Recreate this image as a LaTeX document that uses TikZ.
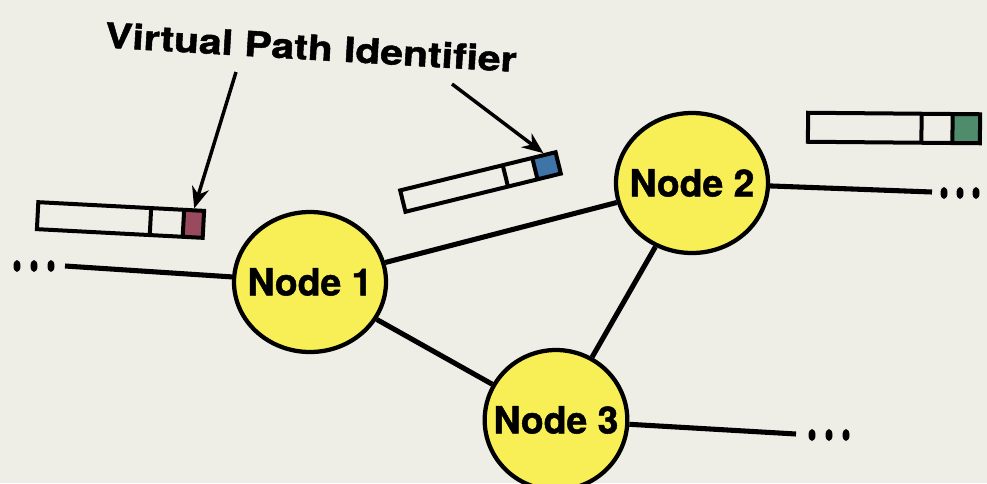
\documentclass[tikz,border=0pt]{standalone}
\usepackage{fontspec}
\newfontfamily\hv{TeX Gyre Heros}[BoldFeatures={FakeBold=1.3}]
\usetikzlibrary{shapes.geometric,arrows.meta}
\definecolor{bg}{HTML}{EEEEE7}
\definecolor{nodey}{HTML}{F8EE55}
\definecolor{vpired}{HTML}{9A4A5E}
\definecolor{vpiblue}{HTML}{3F74A8}
\definecolor{vpigreen}{HTML}{4F8C6C}
\newcommand\vpicell[8]{%
\begin{scope}[shift={#2},rotate=#3]
\fill[#8] (#7,-#5) rectangle (#4,#5);
\draw[cellbox] (-#4,-#5) rectangle (#4,#5);
\draw[cellbox] (#6,-#5) -- (#6,#5);
\draw[cellbox] (#7,-#5) -- (#7,#5);
\coordinate (#1) at ({(#7+#4)/2},-#5-2);
\end{scope}}
\begin{document}
\begin{tikzpicture}[x=0.75pt,y=-0.75pt,
  netnode/.style={ellipse,draw=black,line width=3.2pt,fill=nodey,minimum width=114pt,minimum height=105pt,inner sep=0pt,font=\hv\bfseries\fontsize{28}{30}\selectfont},
  link/.style={line width=3.8pt,black},
  cellbox/.style={draw=black,line width=3pt,fill=none},
  vpiarrow/.style={line width=2.6pt,-{Stealth[length=16pt,width=13pt]}},
  dotmark/.style={fill=black}]
\fill[bg] (0,0) rectangle (987,483);
\clip (0,0) rectangle (987,483);
% title
\node[font=\hv\bfseries\fontsize{26}{28}\selectfont,rotate=-3.4,inner sep=0pt] (title) at (311,47) {\scalebox{1.18}[1]{Virtual Path Identifier}};
% nodes
\node[netnode] (n1) at (310,282) {\makebox[0pt]{Node 1}};
\node[netnode] (n2) at (692,183) {\makebox[0pt]{Node 2}};
\node[netnode,minimum width=107pt] (n3) at (556,420) {\makebox[0pt]{Node 3}};
% free ends
\coordinate (l0) at (65,266);
\coordinate (r2) at (932,192);
\coordinate (r3) at (796,434);
% links
\draw[link] (l0) -- (n1);
\draw[link] (n1) -- (n2);
\draw[link] (n1) -- (n3);
\draw[link] (n2) -- (n3);
\draw[link] (n2) -- (r2);
\draw[link] (n3) -- (r3);
% dots
\foreach \x in {17,34,51} \fill[dotmark] (\x,266) ellipse [x radius=3.5, y radius=6];
\foreach \x in {944,960,976} \fill[dotmark] (\x,193) ellipse [x radius=3.5, y radius=6];
\foreach \x in {812,829,846} \fill[dotmark] (\x,435) ellipse [x radius=3.5, y radius=6];
% cells
\vpicell{c1}{(120.5,220)}{-3}{83}{13.5}{30}{63}{vpired}
\vpicell{c2}{(480.5,182)}{13.8}{80}{11}{25.6}{56}{vpiblue}
\vpicell{c3}{(894,128)}{-0.5}{86}{14.5}{27.5}{58.5}{vpigreen}
% arrows
\coordinate (a1) at (236,72);
\coordinate (a2) at (452,84);
\draw[vpiarrow] (a1) -- (c1);
\draw[vpiarrow] (a2) -- (c2);
\end{tikzpicture}
\end{document}
